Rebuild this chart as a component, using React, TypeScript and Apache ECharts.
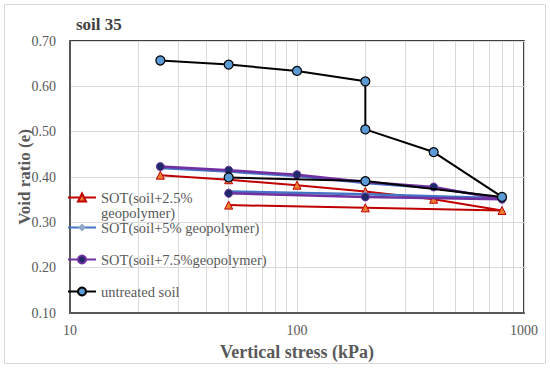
import React, { useEffect, useRef } from "react";
import * as echarts from "echarts";

const seriesNames = [
  "SOT(soil+2.5% geopolymer)",
  "SOT(soil+5% geopolymer)",
  "SOT(soil+7.5%geopolymer)",
  "untreated soil",
];

const stress25 = [25, 50, 100, 200, 400, 800, 200, 50];
const void25 = [0.404, 0.394, 0.382, 0.368, 0.351, 0.326, 0.332, 0.338];

const stress5 = [25, 50, 100, 200, 400, 800, 200, 50];
const void5 = [0.42, 0.412, 0.402, 0.387, 0.376, 0.353, 0.362, 0.368];

const stress75 = [25, 50, 100, 200, 400, 800, 200, 50];
const void75 = [0.423, 0.415, 0.405, 0.389, 0.378, 0.351, 0.356, 0.364];

const stressUn = [25, 50, 100, 200, 200, 400, 800, 200, 50];
const voidUn = [0.657, 0.648, 0.634, 0.611, 0.505, 0.455, 0.356, 0.391, 0.399];

const minorGridX = [20, 30, 40, 50, 60, 70, 80, 90, 200, 300, 400, 500, 600, 700, 800, 900];

const FONT = "Liberation Serif";

const pairs = (xs: number[], ys: number[]) => xs.map((x, i) => [x, ys[i]]);

export default function App() {
  const ref = useRef<HTMLDivElement>(null);
  useEffect(() => {
    document.body.style.margin = "0";
    const chart = echarts.init(ref.current!, null, { renderer: "svg" });
    const legendText = { color: "#595959", fontFamily: FONT, fontSize: 14.5 };
    const mkLegend = (name: string, top: number, extra: any = {}) => ({
      left: 67,
      top,
      padding: 0,
      orient: "vertical",
      itemWidth: 28,
      itemHeight: 10,
      itemGap: 2,
      data: [name],
      textStyle: { ...legendText, ...(extra.textStyle || {}) },
      formatter: extra.formatter,
    });
    chart.setOption({
      animation: false,
      backgroundColor: "#fff",
      title: {
        text: "soil 35",
        left: 76,
        top: 16,
        padding: 0,
        textStyle: { fontFamily: FONT, fontSize: 17, fontWeight: "bold", color: "#404040" },
      },
      graphic: [
        {
          type: "rect",
          shape: { x: 4.5, y: 4.5, width: 541, height: 359 },
          style: { fill: "none", stroke: "#D9D9D9", lineWidth: 1 },
          silent: true,
        },
      ],
      legend: [
        mkLegend(seriesNames[0], 175, {
          formatter: () => "\nSOT(soil+2.5%\ngeopolymer)",
          textStyle: { lineHeight: 15 },
        }),
        mkLegend(seriesNames[1], 220),
        mkLegend(seriesNames[2], 252),
        mkLegend(seriesNames[3], 284),
      ],
      grid: {
        left: 70,
        top: 41,
        width: 454,
        height: 272,
        show: true,
        borderColor: "#000",
        borderWidth: 1.5,
        containLabel: false,
      },
      xAxis: {
        type: "log",
        logBase: 10,
        min: 10,
        max: 1000,
        name: "Vertical stress (kPa)",
        nameLocation: "middle",
        nameGap: 30,
        nameTextStyle: { fontFamily: FONT, fontSize: 18, fontWeight: "bold", color: "#595959" },
        axisLine: { show: true, lineStyle: { color: "#595959", width: 2 } },
        axisTick: { show: false },
        axisLabel: {
          fontFamily: FONT,
          fontSize: 14,
          color: "#595959",
          margin: 10,
          formatter: (v: number) => String(Math.round(v)),
        },
        splitLine: { show: true, lineStyle: { color: "#D9D9D9", width: 1 } },
        minorTick: { show: false },
        minorSplitLine: { show: false },
      },
      yAxis: {
        type: "value",
        min: 0.1,
        max: 0.7,
        interval: 0.1,
        name: "Void ratio (e)",
        nameLocation: "middle",
        nameGap: 37,
        nameMoveOverlap: false,
        nameTextStyle: { fontFamily: FONT, fontSize: 17, fontWeight: "bold", color: "#595959" },
        axisLine: { show: true, lineStyle: { color: "#595959", width: 2 } },
        axisTick: { show: false },
        axisLabel: {
          fontFamily: FONT,
          fontSize: 14,
          color: "#595959",
          margin: 14,
          formatter: (v: number) => v.toFixed(2),
        },
        splitLine: { show: true, lineStyle: { color: "#D9D9D9", width: 1 } },
      },
      series: [
        {
          name: seriesNames[0],
          type: "line",
          data: pairs(stress25, void25),
          lineStyle: { color: "#C00000", width: 2 },
          itemStyle: { color: "#ED7D31", borderColor: "#C00000", borderWidth: 1 },
          symbol: "triangle",
          symbolSize: 8,
          z: 2,
          markLine: {
            silent: true,
            symbol: "none",
            label: { show: false },
            lineStyle: { color: "#D9D9D9", width: 1, type: "solid" },
            data: minorGridX.map((x) => ({ xAxis: x })),
            z: 0,
          },
        },
        {
          name: seriesNames[1],
          type: "line",
          data: pairs(stress5, void5),
          lineStyle: { color: "#4472C4", width: 2.5 },
          itemStyle: { color: "#8EA9C8", borderColor: "#8EA9C8" },
          symbol: "diamond",
          symbolSize: 6,
          z: 3,
        },
        {
          name: seriesNames[2],
          type: "line",
          data: pairs(stress75, void75),
          lineStyle: { color: "#7030A0", width: 2.5 },
          itemStyle: { color: "#1F2A6B", borderColor: "#7030A0", borderWidth: 1 },
          symbol: "circle",
          symbolSize: 8,
          z: 4,
        },
        {
          name: seriesNames[3],
          type: "line",
          data: pairs(stressUn, voidUn),
          lineStyle: { color: "#000000", width: 2 },
          itemStyle: { color: "#5B9BD5", borderColor: "#000000", borderWidth: 1.2 },
          symbol: "circle",
          symbolSize: 9,
          z: 5,
        },
      ],
    });
    return () => chart.dispose();
  }, []);
  return <div ref={ref} style={{ width: 550, height: 368 }} />;
}
